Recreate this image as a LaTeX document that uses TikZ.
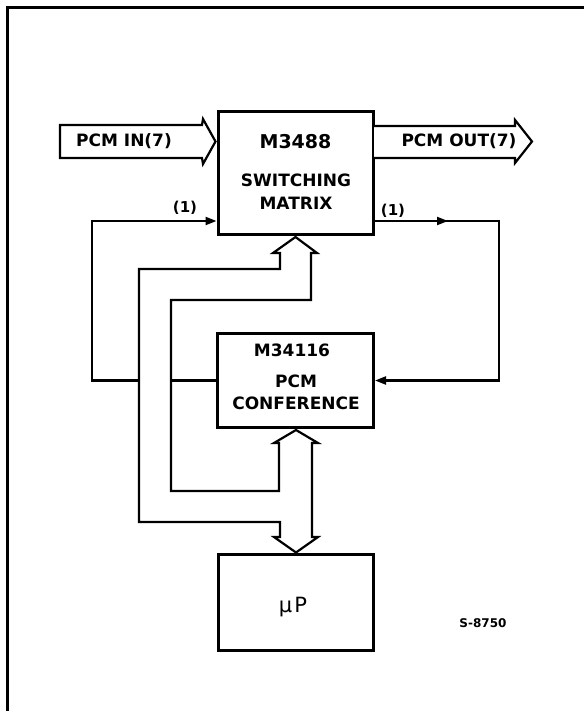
\documentclass[tikz,border=0pt]{standalone}
\usepackage{fontspec}
\setmainfont{DejaVu Sans}
\usetikzlibrary{arrows.meta}
\begin{document}
\begin{tikzpicture}[x=1pt,y=-1pt,
  blk/.style={draw, line width=3pt, inner sep=0pt},
  lbl/.style={font=\bfseries\fontsize{17}{17}\selectfont, inner sep=0pt},
  big/.style={font=\bfseries\fontsize{19}{19}\selectfont, inner sep=0pt},
  small/.style={font=\bfseries\fontsize{15}{15}\selectfont, inner sep=0pt},
  wire/.style={line width=2.1pt},
  tri/.style={-{Triangle[length=11pt,width=8pt]}},
  bus/.style={draw, fill=white, line width=2.2pt, line join=miter}]

\useasboundingbox (0,0) rectangle (584,711);
\draw[line width=2.2pt] (7.5,711) -- (7.5,7.5) -- (584,7.5);

% blocks
\node[blk, minimum width=155pt, minimum height=123pt] (sw) at (295.5,173) {};
\node[blk, minimum width=156pt, minimum height=94pt] (cf) at (295.5,380.5) {};
\node[blk, minimum width=155pt, minimum height=96pt] (up) at (296,602.5) {};

\node[big] (swA) at (295.5,142) {M3488};
\node[lbl] (swB) at (296,180) {SWITCHING};
\node[lbl] (swC) at (296,203) {MATRIX};

\node[lbl] (cfA) at (292,350) {M34116};
\node[lbl] (cfB) at (296,381.5) {PCM};
\node[lbl] (cfC) at (296,403.5) {CONFERENCE};

\node[font=\fontsize{21}{21}\selectfont, inner sep=0pt] (upA) at (293,607) {μ\kern2pt P};

\node[font=\bfseries\fontsize{12}{12}\selectfont, inner sep=0pt] (ref) at (483,623) {S-8750};

% single lines
\draw[wire,tri] (cf.west) -- (92,380.5) -- (92,221) -- ([yshift=15pt]sw.south west);
\draw[wire,tri] ([yshift=15pt]sw.south east) -- (448,221);
\draw[wire,tri] (446,221) -- (499,221) -- (499,380.5) -- (cf.east);
\node[small] (l1) at (185,208) {(1)};
\node[small] (l2) at (393,211) {(1)};

% bus between uP, conference and switching matrix
\draw[bus] (295.5,237) -- (317,253) -- (311,253) -- (311,300) -- (171,300)
  -- (171,491) -- (279,491) -- (279,443) -- (274,443) -- (296,430)
  -- (318,443) -- (312,443) -- (312,537) -- (318,537) -- (296,552.5)
  -- (274,537) -- (280,537) -- (280,522) -- (139,522) -- (139,269)
  -- (280,269) -- (280,253) -- (273,253) -- cycle;

% PCM in / out fat arrows
\draw[bus] (60,125) -- (202,125) -- (203,119) -- (215.5,141.5) -- (203,164)
  -- (202,158) -- (60,158) -- cycle;
\draw[bus] (374,126) -- (515,126) -- (515,120) -- (532,141.5) -- (515,163)
  -- (515,158) -- (374,158);
\node[lbl] (pin) at (124,141.5) {PCM IN(7)};
\node[lbl] (pout) at (459,141.5) {PCM OUT(7)};
\end{tikzpicture}
\end{document}
